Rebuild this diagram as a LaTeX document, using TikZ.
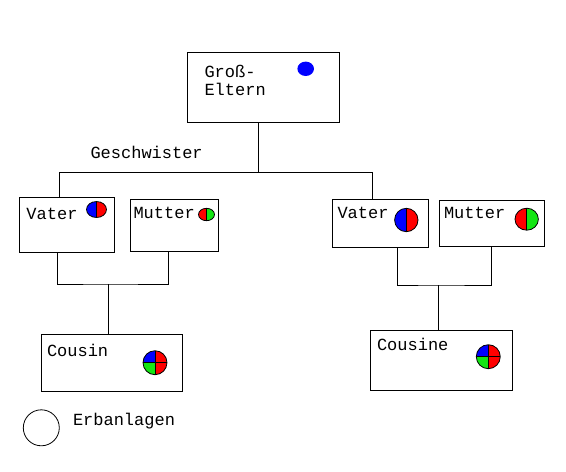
\documentclass[tikz,border=0pt]{standalone}
\usepackage{fontspec}
\setmainfont{Liberation Mono}
\usepackage{tikz}
\definecolor{erbblau}{RGB}{0,0,255}
\definecolor{erbrot}{RGB}{255,0,0}
\definecolor{erbgruen}{RGB}{20,230,20}
% two halves: x, y, x radius, y radius, left, right
\newcommand{\halbe}[6]{%
  \begin{scope}[shift={(#1,#2)}]
    \begin{scope}
      \clip (0,0) ellipse[x radius=#3,y radius=#4];
      \fill[#5] (-#3,-#4) rectangle (0,#4);
      \fill[#6] (0,-#4) rectangle (#3,#4);
    \end{scope}
    \draw[line width=.8pt] (0,0) ellipse[x radius=#3,y radius=#4];
    \draw[line width=.8pt] (0,-#4) -- (0,#4);
  \end{scope}}
% four quarters: x, y, radius
\newcommand{\viertel}[3]{%
  \begin{scope}[shift={(#1,#2)}]
    \begin{scope}
      \clip (0,0) circle[radius=#3];
      \fill[erbblau] (-#3,-#3) rectangle (0,0);
      \fill[erbrot] (0,-#3) rectangle (#3,0);
      \fill[erbgruen] (-#3,0) rectangle (0,#3);
      \fill[erbrot] (0,0) rectangle (#3,#3);
    \end{scope}
    \draw[line width=.8pt] (0,0) circle[radius=#3];
    \draw[line width=.8pt] (0,-#3) -- (0,#3) (-#3,0) -- (#3,0);
  \end{scope}}

\begin{document}
\begin{tikzpicture}[x=1pt,y=-1pt,line width=1pt,
  box/.style={draw,inner sep=0pt},
  txt/.style={anchor=base west,inner sep=0pt,font=\fontsize{17}{20}\selectfont}]
\useasboundingbox (0,0) rectangle (566,472);
%grandparents
\node[box,minimum width=152,minimum height=70] (ge) at (263,87) {};
\node[txt] (getxt) at (204,77) {Groß-};
\node[txt] (getxtb) at (204,95) {Eltern};
\fill[erbblau] (305.7,68.8) ellipse[x radius=8.3,y radius=7.2];
\node[txt] (geschwtxt) at (90,158) {Geschwister};
\coordinate (geschw) at (258.3,172.3);
\draw (geschw |- ge.south) -- (geschw);
%left family
\node[box,minimum width=94.5,minimum height=55] (vaterL) at (67.2,224.8) {};
\node[box,minimum width=88.3,minimum height=52] (mutterL) at (174.2,225) {};
\node[txt] (vaterLtxt) at (26,219.3) {Vater};
\node[txt] (mutterLtxt) at (133,218.3) {Mutter};
\halbe{96.5}{209.5}{10}{8}{erbblau}{erbrot}
\halbe{206.5}{214.5}{8}{6.2}{erbrot}{erbgruen}
\node[box,minimum width=141,minimum height=56.7] (cousin) at (112.2,363.3) {};
\node[txt] (cousintxt) at (46.5,356) {Cousin};
\viertel{155}{362.7}{12}
\coordinate (elternL) at (108.3,284);
\draw ([xshift=-10]vaterL.south) |- (elternL) -| ([xshift=-6]mutterL.south);
\draw (elternL) -- (elternL |- cousin.north);
%right family
\node[box,minimum width=96,minimum height=48] (vaterR) at (380.3,223.3) {};
\node[box,minimum width=105.2,minimum height=46] (mutterR) at (491.9,223) {};
\node[txt] (vaterRtxt) at (337,218.3) {Vater};
\node[txt] (mutterRtxt) at (443.5,218.3) {Mutter};
\halbe{406.3}{220}{11.7}{11.7}{erbblau}{erbrot}
\halbe{526.7}{219.2}{11.7}{11}{erbrot}{erbgruen}
\node[box,minimum width=142,minimum height=60] (cousine) at (441.7,360) {};
\node[txt] (cousinetxt) at (376.5,350) {Cousine};
\viertel{488.3}{356.7}{12}
\coordinate (elternR) at (438.3,285);
\draw ([xshift=17.4]vaterR.south) |- (elternR) -| (mutterR.south);
\draw (elternR) -- (elternR |- cousine.north);
%siblings
\draw ([xshift=-8]vaterL.north) |- (geschw) -| ([xshift=-7.6]vaterR.north);
%legend
\node[draw,circle,line width=.8pt,minimum size=36,inner sep=0pt] (erb) at (41.3,427.8) {};
\node[txt] (erbtxt) at (72.5,425) {Erbanlagen};
\end{tikzpicture}
\end{document}
